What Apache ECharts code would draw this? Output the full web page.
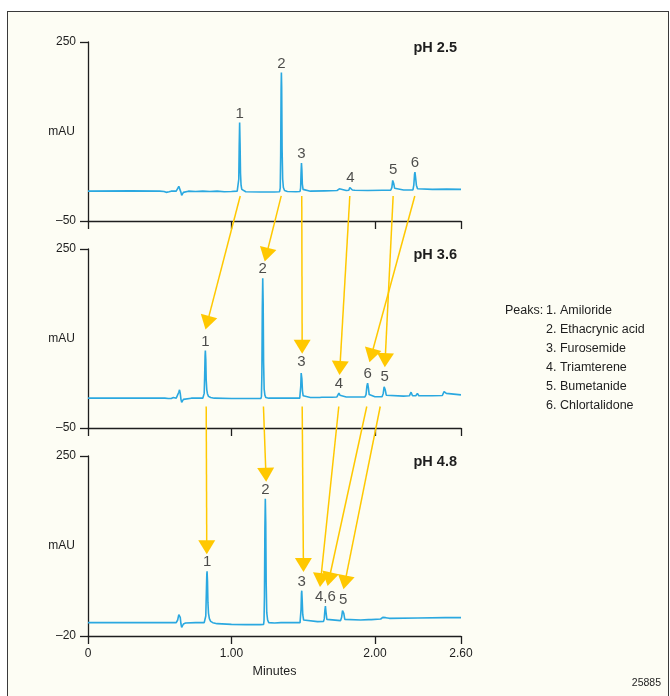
<!DOCTYPE html>
<html><head><meta charset="utf-8">
<script src="https://cdn.jsdelivr.net/npm/echarts@6/dist/echarts.min.js"></script>
<style>
html,body{margin:0;padding:0;background:#fff;width:670px;height:696px;overflow:hidden}
#frame{position:absolute;left:7px;top:11px;width:662px;height:700px;border:1px solid #3a3a3a;background:#fdfdf4;box-sizing:border-box}
#chart{position:absolute;left:0;top:0;width:670px;height:696px}
</style></head><body><div id="frame"></div><div id="chart"></div>
<script>
// ---------- data ----------
const panelTitles = ['pH 2.5', 'pH 3.6', 'pH 4.8'];
const xTicks = [0, 1, 2, 2.6];
const xTickLabels = ['0', '1.00', '2.00', '2.60'];
const yMin = [-50, -50, -20];
const yMax = [250, 250, 250];

const trace_pH25 = [
 [0,0],[0.30,0.5],[0.50,0],[0.53,-0.5],[0.545,-2],[0.555,0.5],[0.565,-1],[0.58,0],[0.615,0],[0.625,2],[0.633,8],[0.638,11],[0.643,6],[0.648,-2],[0.653,-7],[0.658,-6],[0.665,-2],[0.675,-1],[0.70,0],[0.75,-0.5],[0.80,0],[0.85,-0.5],[0.90,0],[0.95,-1],[1.00,-0.5],[1.04,0],
 [1.047,2],[1.051,20],[1.054,75],[1.057,115],[1.060,80],[1.063,30],[1.067,10],[1.072,3],[1.08,0],[1.10,-1],
 [1.20,-1.5],[1.30,-1.5],[1.335,-1],
 [1.340,5],[1.343,60],[1.346,170],[1.348,199],[1.350,175],[1.353,70],[1.357,20],[1.362,6],[1.37,1],[1.39,-0.5],
 [1.45,-1],[1.478,-0.5],
 [1.482,5],[1.485,30],[1.488,47],[1.491,35],[1.494,12],[1.499,3],[1.51,0],[1.55,0],[1.65,0.5],[1.735,1],[1.745,3.5],[1.752,4],[1.76,1.5],[1.80,1],[1.818,1.5],[1.825,6],[1.83,8],[1.835,5],[1.843,2],[1.86,1.5],[1.95,1],[2.05,1.5],[2.11,1.5],
 [2.118,6],[2.124,18],[2.127,20],[2.131,13],[2.137,5],[2.15,2],[2.20,2],[2.265,2],
 [2.271,10],[2.276,28],[2.279,32],[2.283,24],[2.289,10],[2.297,4],[2.31,3],[2.40,3],[2.50,3.5],[2.60,3]
];
const trace_pH36 = [
 [0,0],[0.30,0],[0.50,0],[0.535,0],[0.54,2],[0.545,0],[0.56,-0.5],[0.57,1],[0.58,-0.5],[0.595,1],[0.60,-0.5],[0.615,0],[0.625,3],[0.633,10],[0.638,14],[0.643,8],[0.648,-2],[0.653,-7],[0.658,-6],[0.665,-2],[0.675,-0.5],[0.72,0],[0.80,0],
 [0.806,1],[0.810,8],[0.813,35],[0.816,70],[0.818,80],[0.821,65],[0.824,30],[0.828,14],[0.833,7],[0.84,3],[0.855,1],[0.88,0],
 [1.00,-0.5],[1.10,-0.5],[1.205,-0.5],
 [1.209,3],[1.212,40],[1.215,150],[1.218,201],[1.221,160],[1.224,60],[1.228,15],[1.233,5],[1.24,1],[1.26,0],
 [1.40,0],[1.476,0],
 [1.480,3],[1.483,20],[1.486,42],[1.488,45],[1.491,32],[1.495,12],[1.50,4],[1.51,1],[1.55,1],[1.615,1],[1.622,3],[1.63,1.5],[1.70,1.5],[1.735,2],[1.742,5],[1.749,8.5],[1.756,5],[1.765,2],[1.80,2],[1.93,2],
 [1.938,6],[1.944,20],[1.949,25],[1.954,18],[1.96,6],[1.968,3],[2.00,2.5],[2.05,2.5],
 [2.058,8],[2.064,19],[2.068,21],[2.072,14],[2.079,5],[2.09,3],[2.20,3.5],[2.24,4],[2.252,10],[2.262,4],[2.285,4],[2.296,8],[2.306,4],[2.40,4],[2.47,4.5],[2.482,11],[2.49,14],[2.498,8],[2.51,5],[2.60,5.5]
];
const trace_pH48 = [
 [0,0],[0.30,0],[0.45,0],[0.46,2],[0.47,0],[0.55,0],[0.56,1],[0.57,0],[0.615,0],[0.625,4],[0.633,12],[0.638,15],[0.643,8],[0.648,-2],[0.653,-7],[0.658,-6],[0.665,-2],[0.68,-0.5],[0.75,0],[0.81,0],
 [0.817,2],[0.821,10],[0.825,45],[0.828,72],[0.830,77],[0.833,62],[0.836,30],[0.84,14],[0.846,6],[0.855,2],[0.87,0],[0.90,-1.5],[1.00,-2.5],[1.10,-3],[1.20,-3],[1.224,-2.5],
 [1.227,3],[1.230,40],[1.233,140],[1.236,186],[1.239,150],[1.242,60],[1.246,15],[1.252,4],[1.26,0],[1.30,-0.5],[1.345,0],[1.352,2],[1.36,0],[1.45,0],[1.478,0],
 [1.482,3],[1.485,20],[1.488,44],[1.490,48],[1.493,34],[1.497,12],[1.503,4],[1.515,1.5],[1.60,1.5],[1.642,2],
 [1.647,6],[1.651,18],[1.655,25],[1.659,16],[1.665,5],[1.675,2.5],[1.76,3],
 [1.768,8],[1.774,18],[1.779,21],[1.783,14],[1.79,5],[1.80,3.5],[1.90,4],[1.955,4.5],[1.964,6],[1.975,4.5],[2.04,5.5],[2.055,8],[2.064,9.5],[2.075,7.5],[2.10,6.5],[2.30,7],[2.49,7.5],[2.50,9],[2.51,7.5],[2.60,7.5]
];

const peakTimes_pH25 = [1.057, 1.348, 1.488, 1.830, 2.127, 2.279];
const peakHeights_pH25 = [115, 199, 47, 8, 20, 32];
const peakLabels_pH25 = ['1', '2', '3', '4', '5', '6'];
const peakTimes_pH36 = [0.818, 1.218, 1.488, 1.749, 1.949, 2.068];
const peakHeights_pH36 = [80, 201, 45, 8.5, 25, 21];
const peakLabels_pH36 = ['1', '2', '3', '4', '6', '5'];
const peakTimes_pH48 = [0.830, 1.236, 1.490, 1.655, 1.779];
const peakHeights_pH48 = [77, 186, 48, 25, 21];
const peakLabels_pH48 = ['1', '2', '3', '4,6', '5'];

const peakNames = ['1. Amiloride', '2. Ethacrynic acid', '3. Furosemide', '4. Triamterene', '5. Bumetanide', '6. Chlortalidone'];

// arrows: from a point in one panel to a point in the next (minutes, mAU)
const arrowFromPanel = [0,0,0,0,0,0, 1,1,1,1,1,1];
const arrowFromTime  = [1.061,1.347,1.490,1.825,2.127,2.278, 0.824,1.223,1.493,1.748,2.037,1.943];
const arrowFromValue = [-8,-8,-8,-8,-8,-8, -14,-14,-14,-14,-14,-14];
const arrowToTime    = [0.819,1.232,1.493,1.753,2.069,1.962, 0.828,1.242,1.502,1.617,1.781,1.670];
const arrowToValue   = [115,229,74.5,39,52,60, 102.7,211.4,76,53.6,50,55];

// ---------- style ----------
const FONT = "'Liberation Sans',Arial,sans-serif";
const INK = '#1e1e1e';
const TRACE = '#2aa8e0';
const ARROW = '#ffc800';
const grids = [{top:42,height:179},{top:249,height:179},{top:456,height:180}];

const traces = [trace_pH25, trace_pH36, trace_pH48];
const peakT = [peakTimes_pH25, peakTimes_pH36, peakTimes_pH48];
const peakV = [peakHeights_pH25, peakHeights_pH36, peakHeights_pH48];
const peakL = [peakLabels_pH25, peakLabels_pH36, peakLabels_pH48];

const chart = echarts.init(document.getElementById('chart'), null, {renderer:'canvas'});
const fmtY = v => (v < 0 ? '\u2013' + Math.abs(v) : String(v));
const axisLine = {show:true, onZero:false, lineStyle:{color:INK, width:1.3}};

const option = {
  animation:false,
  backgroundColor:'transparent',
  textStyle:{fontFamily:FONT},
  title: panelTitles.map((t,i)=>({
    text:t, right:213, top:grids[i].top - 2, padding:0,
    textStyle:{fontFamily:FONT, fontSize:14.5, fontWeight:'bold', color:INK}
  })),
  grid: grids.map(g=>({left:88, width:373, top:g.top, height:g.height, containLabel:false})),
  xAxis: grids.map((g,i)=>({
    type:'value', gridIndex:i, min:0, max:2.6,
    axisLine, splitLine:{show:false},
    axisTick:{show:true, customValues:xTicks, length:8, lineStyle:{color:INK, width:1.3}},
    axisLabel:{show:i===2, customValues:xTicks, margin:12, color:INK, fontSize:12, fontFamily:FONT,
      formatter:v=>{const k=xTicks.findIndex(x=>Math.abs(x-v)<1e-6); return k>=0?xTickLabels[k]:'';}},
    name: i===2 ? 'Minutes' : '', nameLocation:'middle', nameGap:29,
    nameTextStyle:{color:INK, fontSize:12.5, fontFamily:FONT}
  })),
  yAxis: grids.map((g,i)=>({
    type:'value', gridIndex:i, min:yMin[i], max:yMax[i],
    axisLine, splitLine:{show:false},
    axisTick:{show:true, customValues:[yMin[i], yMax[i]], length:8, lineStyle:{color:INK, width:1.3}},
    axisLabel:{show:true, customValues:[yMin[i], yMax[i]], margin:12, color:INK, fontSize:12, fontFamily:FONT, formatter:fmtY}
  })),
  series: [].concat(
    traces.map((d,i)=>({
      type:'line', xAxisIndex:i, yAxisIndex:i, data:d, showSymbol:false, symbol:'none',
      lineStyle:{color:TRACE, width:1.6}, silent:true, z:3
    })),
    peakT.map((ts,i)=>({
      type:'scatter', xAxisIndex:i, yAxisIndex:i, symbol:'circle', symbolSize:1,
      data: ts.map((t,k)=>[t, peakV[i][k]]),
      itemStyle:{color:'rgba(0,0,0,0)'},
      label:{show:true, position:'top', distance:1, color:INK, fontSize:15, fontFamily:FONT,
        formatter:p=>peakL[i][p.dataIndex]},
      silent:true, z:4
    }))
  )
};
chart.setOption(option);

// arrows converted through the axes' scales
const gfx = [];
for (let k = 0; k < arrowFromTime.length; k++) {
  const pa = arrowFromPanel[k];
  const p0 = chart.convertToPixel({gridIndex:pa}, [arrowFromTime[k], arrowFromValue[k]]);
  const p1 = chart.convertToPixel({gridIndex:pa+1}, [arrowToTime[k], arrowToValue[k]]);
  const dx = p1[0]-p0[0], dy = p1[1]-p0[1];
  const L = Math.hypot(dx, dy), ux = dx/L, uy = dy/L;
  const headL = 14, headW = 8.5;
  const bx = p1[0]-ux*headL, by = p1[1]-uy*headL;
  gfx.push({type:'line', z:10, silent:true, shape:{x1:p0[0], y1:p0[1], x2:bx+ux*2, y2:by+uy*2},
    style:{stroke:ARROW, lineWidth:1.5}});
  gfx.push({type:'polygon', z:10, silent:true, shape:{points:[[p1[0],p1[1]],[bx-uy*headW, by+ux*headW],[bx+uy*headW, by-ux*headW]]},
    style:{fill:ARROW}});
}
// axis names "mAU", centred on each panel
grids.forEach((g,i)=>{
  gfx.push({type:'text', z:10, silent:true, x:75, y:g.top + g.height/2,
    style:{text:'mAU', font:'12px '+FONT, fill:INK, align:'right', verticalAlign:'middle'}});
});
// peaks key
gfx.push({type:'text', z:10, silent:true, x:505, y:301, style:{text:'Peaks:', font:'12.5px '+FONT, fill:INK, lineHeight:19}});
gfx.push({type:'text', z:10, silent:true, x:546, y:301, style:{text:peakNames.join('\n'), font:'12.5px '+FONT, fill:INK, lineHeight:19}});
gfx.push({type:'text', z:10, silent:true, x:661, y:683, style:{text:'25885', font:'10.5px '+FONT, fill:INK, align:'right', verticalAlign:'middle'}});
chart.setOption({graphic: gfx});
</script></body></html>
